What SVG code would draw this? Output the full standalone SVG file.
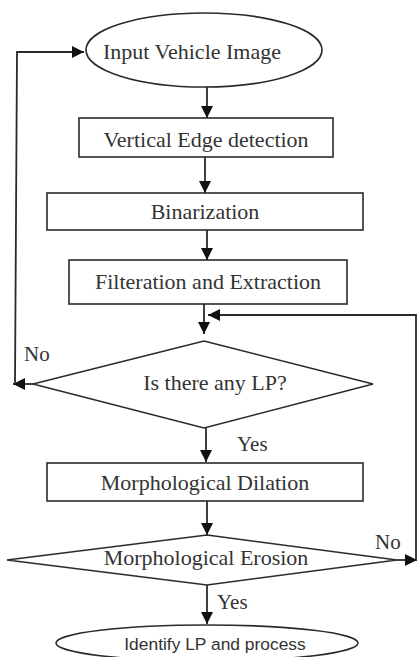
<svg xmlns="http://www.w3.org/2000/svg" width="417" height="657" viewBox="0 0 417 657">
<style>
.s{fill:#fff;stroke:#2a2a2a;stroke-width:1.6}
.c{fill:none;stroke:#2a2a2a;stroke-width:1.8}
.t{font-family:"Liberation Serif","Times New Roman",serif;font-size:22px;fill:#333;text-anchor:middle}
.l{font-family:"Liberation Serif","Times New Roman",serif;font-size:21px;fill:#333}
.sans{font-family:"Liberation Sans",Arial,sans-serif;font-size:17.4px;fill:#333;text-anchor:middle}
</style>
<defs>
<marker id="ah" markerUnits="userSpaceOnUse" markerWidth="14" markerHeight="12" refX="12" refY="6" orient="auto">
<path d="M0,0 L12,6 L0,12 Z" fill="#111"/>
</marker>
</defs>
<rect width="417" height="657" fill="#fff"/>
<g id="connectors">
<line class="c" x1="207" y1="87" x2="207" y2="118" marker-end="url(#ah)"/>
<line class="c" x1="205" y1="157" x2="205" y2="193" marker-end="url(#ah)"/>
<line class="c" x1="207" y1="230" x2="207" y2="260" marker-end="url(#ah)"/>
<line class="c" x1="204" y1="304" x2="204" y2="334" marker-end="url(#ah)"/>
<polyline class="c" points="416,560 416,315 208,315" marker-end="url(#ah)"/>
<line class="c" x1="33" y1="384" x2="13" y2="384" marker-end="url(#ah)"/>
<polyline class="c" points="15,384 17,52 84,52" marker-end="url(#ah)"/>
<line class="c" x1="206" y1="428" x2="206" y2="462" marker-end="url(#ah)"/>
<line class="c" x1="207" y1="501" x2="207" y2="535" marker-end="url(#ah)"/>
<line class="c" x1="397" y1="560" x2="417" y2="560" marker-end="url(#ah)"/>
<line class="c" x1="207" y1="585" x2="207" y2="624" marker-end="url(#ah)"/>
<text class="l" x="24" y="361">No</text>
<text class="l" x="237" y="451">Yes</text>
<text class="l" x="375" y="549">No</text>
<text class="l" x="217" y="609">Yes</text>
</g>
<g id="n1"><ellipse class="s" cx="204" cy="50" rx="118" ry="37"/><text class="t" x="192" y="59">Input Vehicle Image</text></g>
<g id="n2"><rect class="s" x="79" y="118" width="254" height="39"/><text class="t" x="206" y="147">Vertical Edge detection</text></g>
<g id="n3"><rect class="s" x="47" y="193" width="316" height="37"/><text class="t" x="205" y="219">Binarization</text></g>
<g id="n4"><rect class="s" x="69" y="260" width="278" height="44"/><text class="t" x="208" y="289">Filteration and Extraction</text></g>
<g id="n5"><polygon class="s" points="204,341 373,384 204,428 33,384"/><text class="t" x="215" y="390">Is there any LP?</text></g>
<g id="n6"><rect class="s" x="47" y="463" width="316" height="38"/><text class="t" x="205" y="490">Morphological Dilation</text></g>
<g id="n7"><polygon class="s" points="207,535 397,560 207,585 7,560"/><text class="t" x="206" y="565">Morphological Erosion</text></g>
<g id="n8"><ellipse class="s" cx="207" cy="643" rx="151" ry="18"/><text class="sans" x="215" y="650">Identify LP and process</text></g>
</svg>
